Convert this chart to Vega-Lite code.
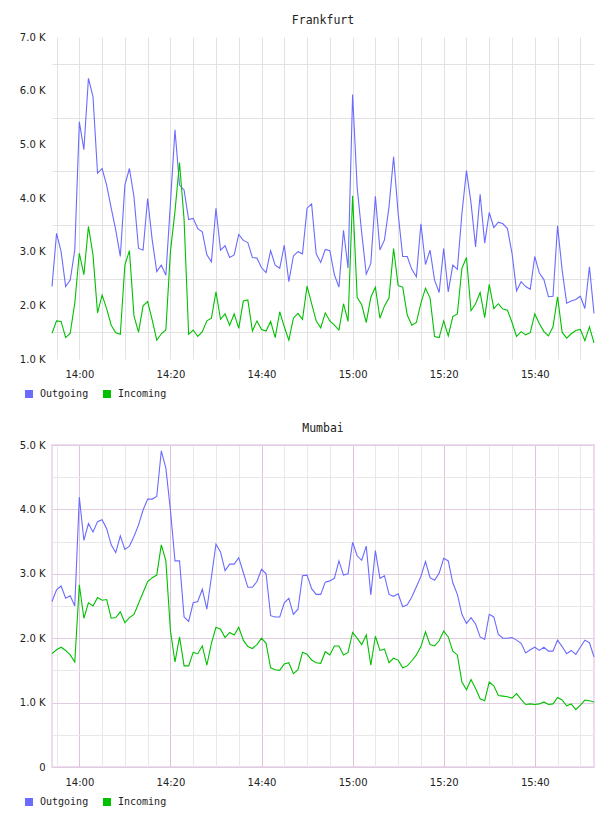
{
  "$schema": "https://vega.github.io/schema/vega-lite/v6.json",
  "background": "white",
  "padding": {"left": 11, "top": 14, "right": 15, "bottom": 5},
  "spacing": 17,
  "resolve": {"scale": {"color": "independent"}, "legend": {"color": "independent"}},
  "config": {
    "view": {"stroke": null},
    "axis": {"labelFont": "DejaVu Sans", "labelFontSize": 10, "labelColor": "#222", "ticks": false, "domain": false, "gridWidth": 1},
    "title": {"font": "DejaVu Sans Mono", "fontSize": 11.5, "fontWeight": "normal", "color": "#222", "anchor": "middle", "offset": 6},
    "legend": {"labelFont": "DejaVu Sans Mono", "labelFontSize": 10, "labelColor": "#222"}
  },
  "datasets": {
    "frankfurt": [
      {"t":"2024-01-01T13:54","Outgoing":2350,"Incoming":1480},
      {"t":"2024-01-01T13:55","Outgoing":3340,"Incoming":1710},
      {"t":"2024-01-01T13:56","Outgoing":3000,"Incoming":1700},
      {"t":"2024-01-01T13:57","Outgoing":2350,"Incoming":1400},
      {"t":"2024-01-01T13:58","Outgoing":2470,"Incoming":1480},
      {"t":"2024-01-01T13:59","Outgoing":3030,"Incoming":2040},
      {"t":"2024-01-01T14:00","Outgoing":5420,"Incoming":2970},
      {"t":"2024-01-01T14:01","Outgoing":4900,"Incoming":2570},
      {"t":"2024-01-01T14:02","Outgoing":6230,"Incoming":3470},
      {"t":"2024-01-01T14:03","Outgoing":5890,"Incoming":2940},
      {"t":"2024-01-01T14:04","Outgoing":4460,"Incoming":1860},
      {"t":"2024-01-01T14:05","Outgoing":4550,"Incoming":2190},
      {"t":"2024-01-01T14:06","Outgoing":4240,"Incoming":1940},
      {"t":"2024-01-01T14:07","Outgoing":3810,"Incoming":1630},
      {"t":"2024-01-01T14:08","Outgoing":3400,"Incoming":1490},
      {"t":"2024-01-01T14:09","Outgoing":2910,"Incoming":1460},
      {"t":"2024-01-01T14:10","Outgoing":4240,"Incoming":2750},
      {"t":"2024-01-01T14:11","Outgoing":4550,"Incoming":3020},
      {"t":"2024-01-01T14:12","Outgoing":4020,"Incoming":1800},
      {"t":"2024-01-01T14:13","Outgoing":3060,"Incoming":1500},
      {"t":"2024-01-01T14:14","Outgoing":3030,"Incoming":1990},
      {"t":"2024-01-01T14:15","Outgoing":3990,"Incoming":2070},
      {"t":"2024-01-01T14:16","Outgoing":3220,"Incoming":1730},
      {"t":"2024-01-01T14:17","Outgoing":2630,"Incoming":1350},
      {"t":"2024-01-01T14:18","Outgoing":2750,"Incoming":1470},
      {"t":"2024-01-01T14:19","Outgoing":2560,"Incoming":1540},
      {"t":"2024-01-01T14:20","Outgoing":3900,"Incoming":3000},
      {"t":"2024-01-01T14:21","Outgoing":5270,"Incoming":3750},
      {"t":"2024-01-01T14:22","Outgoing":4240,"Incoming":4660},
      {"t":"2024-01-01T14:23","Outgoing":4150,"Incoming":3600},
      {"t":"2024-01-01T14:24","Outgoing":3600,"Incoming":1460},
      {"t":"2024-01-01T14:25","Outgoing":3620,"Incoming":1540},
      {"t":"2024-01-01T14:26","Outgoing":3430,"Incoming":1420},
      {"t":"2024-01-01T14:27","Outgoing":3370,"Incoming":1510},
      {"t":"2024-01-01T14:28","Outgoing":2940,"Incoming":1710},
      {"t":"2024-01-01T14:29","Outgoing":2810,"Incoming":1760},
      {"t":"2024-01-01T14:30","Outgoing":3810,"Incoming":2250},
      {"t":"2024-01-01T14:31","Outgoing":3030,"Incoming":1740},
      {"t":"2024-01-01T14:32","Outgoing":3110,"Incoming":1840},
      {"t":"2024-01-01T14:33","Outgoing":2890,"Incoming":1630},
      {"t":"2024-01-01T14:34","Outgoing":2940,"Incoming":1840},
      {"t":"2024-01-01T14:35","Outgoing":3320,"Incoming":1570},
      {"t":"2024-01-01T14:36","Outgoing":3210,"Incoming":2080},
      {"t":"2024-01-01T14:37","Outgoing":3170,"Incoming":2100},
      {"t":"2024-01-01T14:38","Outgoing":2890,"Incoming":1520},
      {"t":"2024-01-01T14:39","Outgoing":2880,"Incoming":1710},
      {"t":"2024-01-01T14:40","Outgoing":2700,"Incoming":1550},
      {"t":"2024-01-01T14:41","Outgoing":2610,"Incoming":1520},
      {"t":"2024-01-01T14:42","Outgoing":3020,"Incoming":1700},
      {"t":"2024-01-01T14:43","Outgoing":2750,"Incoming":1400},
      {"t":"2024-01-01T14:44","Outgoing":2690,"Incoming":1880},
      {"t":"2024-01-01T14:45","Outgoing":3120,"Incoming":1600},
      {"t":"2024-01-01T14:46","Outgoing":2440,"Incoming":1350},
      {"t":"2024-01-01T14:47","Outgoing":2920,"Incoming":1760},
      {"t":"2024-01-01T14:48","Outgoing":3000,"Incoming":1850},
      {"t":"2024-01-01T14:49","Outgoing":2960,"Incoming":1740},
      {"t":"2024-01-01T14:50","Outgoing":3810,"Incoming":2360},
      {"t":"2024-01-01T14:51","Outgoing":3890,"Incoming":2030},
      {"t":"2024-01-01T14:52","Outgoing":2960,"Incoming":1710},
      {"t":"2024-01-01T14:53","Outgoing":2800,"Incoming":1580},
      {"t":"2024-01-01T14:54","Outgoing":3040,"Incoming":1860},
      {"t":"2024-01-01T14:55","Outgoing":3020,"Incoming":1710},
      {"t":"2024-01-01T14:56","Outgoing":2570,"Incoming":1630},
      {"t":"2024-01-01T14:57","Outgoing":2340,"Incoming":1540},
      {"t":"2024-01-01T14:58","Outgoing":3400,"Incoming":2030},
      {"t":"2024-01-01T14:59","Outgoing":2690,"Incoming":1700},
      {"t":"2024-01-01T15:00","Outgoing":5930,"Incoming":4040},
      {"t":"2024-01-01T15:01","Outgoing":4200,"Incoming":2150},
      {"t":"2024-01-01T15:02","Outgoing":3350,"Incoming":2010},
      {"t":"2024-01-01T15:03","Outgoing":2580,"Incoming":1680},
      {"t":"2024-01-01T15:04","Outgoing":2780,"Incoming":2150},
      {"t":"2024-01-01T15:05","Outgoing":4030,"Incoming":2340},
      {"t":"2024-01-01T15:06","Outgoing":3030,"Incoming":1760},
      {"t":"2024-01-01T15:07","Outgoing":3220,"Incoming":1990},
      {"t":"2024-01-01T15:08","Outgoing":3840,"Incoming":2140},
      {"t":"2024-01-01T15:09","Outgoing":4770,"Incoming":3060},
      {"t":"2024-01-01T15:10","Outgoing":3710,"Incoming":2370},
      {"t":"2024-01-01T15:11","Outgoing":2910,"Incoming":2340},
      {"t":"2024-01-01T15:12","Outgoing":2910,"Incoming":1820},
      {"t":"2024-01-01T15:13","Outgoing":2670,"Incoming":1630},
      {"t":"2024-01-01T15:14","Outgoing":2530,"Incoming":1680},
      {"t":"2024-01-01T15:15","Outgoing":3520,"Incoming":2040},
      {"t":"2024-01-01T15:16","Outgoing":2760,"Incoming":2320},
      {"t":"2024-01-01T15:17","Outgoing":3030,"Incoming":2140},
      {"t":"2024-01-01T15:18","Outgoing":2470,"Incoming":1420},
      {"t":"2024-01-01T15:19","Outgoing":2240,"Incoming":1400},
      {"t":"2024-01-01T15:20","Outgoing":3060,"Incoming":1710},
      {"t":"2024-01-01T15:21","Outgoing":2250,"Incoming":1430},
      {"t":"2024-01-01T15:22","Outgoing":2750,"Incoming":1790},
      {"t":"2024-01-01T15:23","Outgoing":2670,"Incoming":1840},
      {"t":"2024-01-01T15:24","Outgoing":3710,"Incoming":2690},
      {"t":"2024-01-01T15:25","Outgoing":4510,"Incoming":2890},
      {"t":"2024-01-01T15:26","Outgoing":3910,"Incoming":1900},
      {"t":"2024-01-01T15:27","Outgoing":3090,"Incoming":2030},
      {"t":"2024-01-01T15:28","Outgoing":4070,"Incoming":2240},
      {"t":"2024-01-01T15:29","Outgoing":3160,"Incoming":1770},
      {"t":"2024-01-01T15:30","Outgoing":3730,"Incoming":2390},
      {"t":"2024-01-01T15:31","Outgoing":3450,"Incoming":1940},
      {"t":"2024-01-01T15:32","Outgoing":3550,"Incoming":2030},
      {"t":"2024-01-01T15:33","Outgoing":3520,"Incoming":1930},
      {"t":"2024-01-01T15:34","Outgoing":3430,"Incoming":1910},
      {"t":"2024-01-01T15:35","Outgoing":2970,"Incoming":1680},
      {"t":"2024-01-01T15:36","Outgoing":2270,"Incoming":1420},
      {"t":"2024-01-01T15:37","Outgoing":2440,"Incoming":1510},
      {"t":"2024-01-01T15:38","Outgoing":2350,"Incoming":1450},
      {"t":"2024-01-01T15:39","Outgoing":2300,"Incoming":1490},
      {"t":"2024-01-01T15:40","Outgoing":2910,"Incoming":1840},
      {"t":"2024-01-01T15:41","Outgoing":2600,"Incoming":1660},
      {"t":"2024-01-01T15:42","Outgoing":2480,"Incoming":1510},
      {"t":"2024-01-01T15:43","Outgoing":2160,"Incoming":1430},
      {"t":"2024-01-01T15:44","Outgoing":2170,"Incoming":1600},
      {"t":"2024-01-01T15:45","Outgoing":3480,"Incoming":2160},
      {"t":"2024-01-01T15:46","Outgoing":2660,"Incoming":1500},
      {"t":"2024-01-01T15:47","Outgoing":2040,"Incoming":1390},
      {"t":"2024-01-01T15:48","Outgoing":2080,"Incoming":1470},
      {"t":"2024-01-01T15:49","Outgoing":2110,"Incoming":1530},
      {"t":"2024-01-01T15:50","Outgoing":2170,"Incoming":1550},
      {"t":"2024-01-01T15:51","Outgoing":1940,"Incoming":1340},
      {"t":"2024-01-01T15:52","Outgoing":2720,"Incoming":1600},
      {"t":"2024-01-01T15:53","Outgoing":1850,"Incoming":1300}
    ],
    "mumbai": [
      {"t":"2024-01-01T13:54","Outgoing":2570,"Incoming":1760},
      {"t":"2024-01-01T13:55","Outgoing":2750,"Incoming":1820},
      {"t":"2024-01-01T13:56","Outgoing":2810,"Incoming":1860},
      {"t":"2024-01-01T13:57","Outgoing":2620,"Incoming":1810},
      {"t":"2024-01-01T13:58","Outgoing":2660,"Incoming":1740},
      {"t":"2024-01-01T13:59","Outgoing":2500,"Incoming":1630},
      {"t":"2024-01-01T14:00","Outgoing":4190,"Incoming":2830},
      {"t":"2024-01-01T14:01","Outgoing":3520,"Incoming":2310},
      {"t":"2024-01-01T14:02","Outgoing":3780,"Incoming":2550},
      {"t":"2024-01-01T14:03","Outgoing":3650,"Incoming":2500},
      {"t":"2024-01-01T14:04","Outgoing":3810,"Incoming":2630},
      {"t":"2024-01-01T14:05","Outgoing":3840,"Incoming":2590},
      {"t":"2024-01-01T14:06","Outgoing":3700,"Incoming":2600},
      {"t":"2024-01-01T14:07","Outgoing":3450,"Incoming":2310},
      {"t":"2024-01-01T14:08","Outgoing":3330,"Incoming":2320},
      {"t":"2024-01-01T14:09","Outgoing":3590,"Incoming":2410},
      {"t":"2024-01-01T14:10","Outgoing":3380,"Incoming":2240},
      {"t":"2024-01-01T14:11","Outgoing":3430,"Incoming":2320},
      {"t":"2024-01-01T14:12","Outgoing":3580,"Incoming":2370},
      {"t":"2024-01-01T14:13","Outgoing":3760,"Incoming":2540},
      {"t":"2024-01-01T14:14","Outgoing":3990,"Incoming":2710},
      {"t":"2024-01-01T14:15","Outgoing":4160,"Incoming":2880},
      {"t":"2024-01-01T14:16","Outgoing":4160,"Incoming":2940},
      {"t":"2024-01-01T14:17","Outgoing":4200,"Incoming":2980},
      {"t":"2024-01-01T14:18","Outgoing":4910,"Incoming":3450},
      {"t":"2024-01-01T14:19","Outgoing":4640,"Incoming":3200},
      {"t":"2024-01-01T14:20","Outgoing":3990,"Incoming":2120},
      {"t":"2024-01-01T14:21","Outgoing":3200,"Incoming":1630},
      {"t":"2024-01-01T14:22","Outgoing":3200,"Incoming":2020},
      {"t":"2024-01-01T14:23","Outgoing":2330,"Incoming":1570},
      {"t":"2024-01-01T14:24","Outgoing":2260,"Incoming":1570},
      {"t":"2024-01-01T14:25","Outgoing":2550,"Incoming":1780},
      {"t":"2024-01-01T14:26","Outgoing":2570,"Incoming":1760},
      {"t":"2024-01-01T14:27","Outgoing":2760,"Incoming":1880},
      {"t":"2024-01-01T14:28","Outgoing":2450,"Incoming":1580},
      {"t":"2024-01-01T14:29","Outgoing":2950,"Incoming":1920},
      {"t":"2024-01-01T14:30","Outgoing":3460,"Incoming":2170},
      {"t":"2024-01-01T14:31","Outgoing":3340,"Incoming":2140},
      {"t":"2024-01-01T14:32","Outgoing":3050,"Incoming":2010},
      {"t":"2024-01-01T14:33","Outgoing":3150,"Incoming":2090},
      {"t":"2024-01-01T14:34","Outgoing":3150,"Incoming":2050},
      {"t":"2024-01-01T14:35","Outgoing":3250,"Incoming":2170},
      {"t":"2024-01-01T14:36","Outgoing":3020,"Incoming":1970},
      {"t":"2024-01-01T14:37","Outgoing":2790,"Incoming":1870},
      {"t":"2024-01-01T14:38","Outgoing":2790,"Incoming":1840},
      {"t":"2024-01-01T14:39","Outgoing":2880,"Incoming":1900},
      {"t":"2024-01-01T14:40","Outgoing":3070,"Incoming":2000},
      {"t":"2024-01-01T14:41","Outgoing":3000,"Incoming":1920},
      {"t":"2024-01-01T14:42","Outgoing":2350,"Incoming":1540},
      {"t":"2024-01-01T14:43","Outgoing":2330,"Incoming":1510},
      {"t":"2024-01-01T14:44","Outgoing":2330,"Incoming":1500},
      {"t":"2024-01-01T14:45","Outgoing":2550,"Incoming":1600},
      {"t":"2024-01-01T14:46","Outgoing":2620,"Incoming":1620},
      {"t":"2024-01-01T14:47","Outgoing":2370,"Incoming":1450},
      {"t":"2024-01-01T14:48","Outgoing":2450,"Incoming":1510},
      {"t":"2024-01-01T14:49","Outgoing":2970,"Incoming":1780},
      {"t":"2024-01-01T14:50","Outgoing":2980,"Incoming":1750},
      {"t":"2024-01-01T14:51","Outgoing":2770,"Incoming":1660},
      {"t":"2024-01-01T14:52","Outgoing":2680,"Incoming":1620},
      {"t":"2024-01-01T14:53","Outgoing":2680,"Incoming":1610},
      {"t":"2024-01-01T14:54","Outgoing":2870,"Incoming":1790},
      {"t":"2024-01-01T14:55","Outgoing":2890,"Incoming":1740},
      {"t":"2024-01-01T14:56","Outgoing":2930,"Incoming":1880},
      {"t":"2024-01-01T14:57","Outgoing":3200,"Incoming":1880},
      {"t":"2024-01-01T14:58","Outgoing":2980,"Incoming":1740},
      {"t":"2024-01-01T14:59","Outgoing":3000,"Incoming":1780},
      {"t":"2024-01-01T15:00","Outgoing":3490,"Incoming":2090},
      {"t":"2024-01-01T15:01","Outgoing":3280,"Incoming":2000},
      {"t":"2024-01-01T15:02","Outgoing":3210,"Incoming":1900},
      {"t":"2024-01-01T15:03","Outgoing":3430,"Incoming":2050},
      {"t":"2024-01-01T15:04","Outgoing":2670,"Incoming":1580},
      {"t":"2024-01-01T15:05","Outgoing":3360,"Incoming":2030},
      {"t":"2024-01-01T15:06","Outgoing":2930,"Incoming":1810},
      {"t":"2024-01-01T15:07","Outgoing":2970,"Incoming":1830},
      {"t":"2024-01-01T15:08","Outgoing":2680,"Incoming":1620},
      {"t":"2024-01-01T15:09","Outgoing":2650,"Incoming":1690},
      {"t":"2024-01-01T15:10","Outgoing":2690,"Incoming":1660},
      {"t":"2024-01-01T15:11","Outgoing":2490,"Incoming":1540},
      {"t":"2024-01-01T15:12","Outgoing":2520,"Incoming":1570},
      {"t":"2024-01-01T15:13","Outgoing":2640,"Incoming":1650},
      {"t":"2024-01-01T15:14","Outgoing":2800,"Incoming":1740},
      {"t":"2024-01-01T15:15","Outgoing":2960,"Incoming":1870},
      {"t":"2024-01-01T15:16","Outgoing":3190,"Incoming":2100},
      {"t":"2024-01-01T15:17","Outgoing":2940,"Incoming":1900},
      {"t":"2024-01-01T15:18","Outgoing":2900,"Incoming":1880},
      {"t":"2024-01-01T15:19","Outgoing":3010,"Incoming":1960},
      {"t":"2024-01-01T15:20","Outgoing":3240,"Incoming":2110},
      {"t":"2024-01-01T15:21","Outgoing":3200,"Incoming":2020},
      {"t":"2024-01-01T15:22","Outgoing":2860,"Incoming":1800},
      {"t":"2024-01-01T15:23","Outgoing":2680,"Incoming":1740},
      {"t":"2024-01-01T15:24","Outgoing":2370,"Incoming":1320},
      {"t":"2024-01-01T15:25","Outgoing":2230,"Incoming":1200},
      {"t":"2024-01-01T15:26","Outgoing":2320,"Incoming":1360},
      {"t":"2024-01-01T15:27","Outgoing":2220,"Incoming":1220},
      {"t":"2024-01-01T15:28","Outgoing":2020,"Incoming":1060},
      {"t":"2024-01-01T15:29","Outgoing":1980,"Incoming":1030},
      {"t":"2024-01-01T15:30","Outgoing":2370,"Incoming":1320},
      {"t":"2024-01-01T15:31","Outgoing":2330,"Incoming":1260},
      {"t":"2024-01-01T15:32","Outgoing":2060,"Incoming":1110},
      {"t":"2024-01-01T15:33","Outgoing":2000,"Incoming":1100},
      {"t":"2024-01-01T15:34","Outgoing":2000,"Incoming":1090},
      {"t":"2024-01-01T15:35","Outgoing":2010,"Incoming":1070},
      {"t":"2024-01-01T15:36","Outgoing":1970,"Incoming":1140},
      {"t":"2024-01-01T15:37","Outgoing":1920,"Incoming":1050},
      {"t":"2024-01-01T15:38","Outgoing":1770,"Incoming":970},
      {"t":"2024-01-01T15:39","Outgoing":1820,"Incoming":980},
      {"t":"2024-01-01T15:40","Outgoing":1860,"Incoming":970},
      {"t":"2024-01-01T15:41","Outgoing":1810,"Incoming":980},
      {"t":"2024-01-01T15:42","Outgoing":1860,"Incoming":1010},
      {"t":"2024-01-01T15:43","Outgoing":1800,"Incoming":970},
      {"t":"2024-01-01T15:44","Outgoing":1800,"Incoming":980},
      {"t":"2024-01-01T15:45","Outgoing":1970,"Incoming":1080},
      {"t":"2024-01-01T15:46","Outgoing":1870,"Incoming":1040},
      {"t":"2024-01-01T15:47","Outgoing":1760,"Incoming":950},
      {"t":"2024-01-01T15:48","Outgoing":1810,"Incoming":980},
      {"t":"2024-01-01T15:49","Outgoing":1750,"Incoming":890},
      {"t":"2024-01-01T15:50","Outgoing":1860,"Incoming":960},
      {"t":"2024-01-01T15:51","Outgoing":1970,"Incoming":1040},
      {"t":"2024-01-01T15:52","Outgoing":1930,"Incoming":1030},
      {"t":"2024-01-01T15:53","Outgoing":1710,"Incoming":1010}
    ]
  },
  "vconcat": [
    {
      "title": "Frankfurt",
      "width": 542,
      "height": 322,
      "data": {"name": "frankfurt"},
      "transform": [{"fold": ["Outgoing", "Incoming"], "as": ["dir", "v"]}],
      "mark": {"type": "line", "strokeWidth": 1.1},
      "encoding": {
        "x": {"field": "t", "type": "temporal", "title": null,
          "axis": {
            "values": [
              {"year": 2024, "month": 1, "date": 1, "hours": 13, "minutes": 55},
              {"year": 2024, "month": 1, "date": 1, "hours": 14, "minutes": 0},
              {"year": 2024, "month": 1, "date": 1, "hours": 14, "minutes": 5},
              {"year": 2024, "month": 1, "date": 1, "hours": 14, "minutes": 10},
              {"year": 2024, "month": 1, "date": 1, "hours": 14, "minutes": 15},
              {"year": 2024, "month": 1, "date": 1, "hours": 14, "minutes": 20},
              {"year": 2024, "month": 1, "date": 1, "hours": 14, "minutes": 25},
              {"year": 2024, "month": 1, "date": 1, "hours": 14, "minutes": 30},
              {"year": 2024, "month": 1, "date": 1, "hours": 14, "minutes": 35},
              {"year": 2024, "month": 1, "date": 1, "hours": 14, "minutes": 40},
              {"year": 2024, "month": 1, "date": 1, "hours": 14, "minutes": 45},
              {"year": 2024, "month": 1, "date": 1, "hours": 14, "minutes": 50},
              {"year": 2024, "month": 1, "date": 1, "hours": 14, "minutes": 55},
              {"year": 2024, "month": 1, "date": 1, "hours": 15, "minutes": 0},
              {"year": 2024, "month": 1, "date": 1, "hours": 15, "minutes": 5},
              {"year": 2024, "month": 1, "date": 1, "hours": 15, "minutes": 10},
              {"year": 2024, "month": 1, "date": 1, "hours": 15, "minutes": 15},
              {"year": 2024, "month": 1, "date": 1, "hours": 15, "minutes": 20},
              {"year": 2024, "month": 1, "date": 1, "hours": 15, "minutes": 25},
              {"year": 2024, "month": 1, "date": 1, "hours": 15, "minutes": 30},
              {"year": 2024, "month": 1, "date": 1, "hours": 15, "minutes": 35},
              {"year": 2024, "month": 1, "date": 1, "hours": 15, "minutes": 40},
              {"year": 2024, "month": 1, "date": 1, "hours": 15, "minutes": 45},
              {"year": 2024, "month": 1, "date": 1, "hours": 15, "minutes": 50}
            ],
            "labelExpr": "minutes(datum.value) % 20 == 0 ? timeFormat(datum.value, '%H:%M') : ''",
            "labelOverlap": false, "labelFlush": false, "labelPadding": 10, "gridColor": "#e2e2e2"}},
        "y": {"field": "v", "type": "quantitative", "title": null, "scale": {"domain": [1000, 7000], "zero": false},
          "axis": {"values": [1000,1500,2000,2500,3000,3500,4000,4500,5000,5500,6000,6500,7000],
            "labelExpr": "datum.value % 1000 == 0 ? format(datum.value / 1000, '.1f') + ' K' : ''",
            "labelOverlap": false, "labelFlush": false, "labelPadding": 7, "minExtent": 40, "maxExtent": 40,
            "gridColor": {"condition": {"test": "datum.value % 1000 == 0", "value": "transparent"}, "value": "#e2e2e2"}}},
        "color": {"field": "dir", "type": "nominal", "title": null, "scale": {"domain": ["Outgoing", "Incoming"], "range": ["#6b6bff", "#00c000"]},
          "legend": {"orient": "none", "legendX": -28, "legendY": 352, "direction": "horizontal", "symbolType": "square", "symbolSize": 16, "symbolStrokeWidth": 4, "labelOffset": 6, "columnPadding": 8, "padding": 0}}
      }
    },
    {
      "title": "Mumbai",
      "width": 542,
      "height": 322,
      "view": {"stroke": "#eedcee", "strokeWidth": 2},
      "data": {"name": "mumbai"},
      "transform": [{"fold": ["Outgoing", "Incoming"], "as": ["dir", "v"]}],
      "mark": {"type": "line", "strokeWidth": 1.1},
      "encoding": {
        "x": {"field": "t", "type": "temporal", "title": null,
          "axis": {
            "values": [
              {"year": 2024, "month": 1, "date": 1, "hours": 13, "minutes": 55},
              {"year": 2024, "month": 1, "date": 1, "hours": 14, "minutes": 0},
              {"year": 2024, "month": 1, "date": 1, "hours": 14, "minutes": 5},
              {"year": 2024, "month": 1, "date": 1, "hours": 14, "minutes": 10},
              {"year": 2024, "month": 1, "date": 1, "hours": 14, "minutes": 15},
              {"year": 2024, "month": 1, "date": 1, "hours": 14, "minutes": 20},
              {"year": 2024, "month": 1, "date": 1, "hours": 14, "minutes": 25},
              {"year": 2024, "month": 1, "date": 1, "hours": 14, "minutes": 30},
              {"year": 2024, "month": 1, "date": 1, "hours": 14, "minutes": 35},
              {"year": 2024, "month": 1, "date": 1, "hours": 14, "minutes": 40},
              {"year": 2024, "month": 1, "date": 1, "hours": 14, "minutes": 45},
              {"year": 2024, "month": 1, "date": 1, "hours": 14, "minutes": 50},
              {"year": 2024, "month": 1, "date": 1, "hours": 14, "minutes": 55},
              {"year": 2024, "month": 1, "date": 1, "hours": 15, "minutes": 0},
              {"year": 2024, "month": 1, "date": 1, "hours": 15, "minutes": 5},
              {"year": 2024, "month": 1, "date": 1, "hours": 15, "minutes": 10},
              {"year": 2024, "month": 1, "date": 1, "hours": 15, "minutes": 15},
              {"year": 2024, "month": 1, "date": 1, "hours": 15, "minutes": 20},
              {"year": 2024, "month": 1, "date": 1, "hours": 15, "minutes": 25},
              {"year": 2024, "month": 1, "date": 1, "hours": 15, "minutes": 30},
              {"year": 2024, "month": 1, "date": 1, "hours": 15, "minutes": 35},
              {"year": 2024, "month": 1, "date": 1, "hours": 15, "minutes": 40},
              {"year": 2024, "month": 1, "date": 1, "hours": 15, "minutes": 45},
              {"year": 2024, "month": 1, "date": 1, "hours": 15, "minutes": 50}
            ],
            "labelExpr": "minutes(datum.value) % 20 == 0 ? timeFormat(datum.value, '%H:%M') : ''",
            "labelOverlap": false, "labelFlush": false, "labelPadding": 10,
            "gridColor": {"condition": {"test": "minutes(datum.value) % 20 == 0", "value": "#dcc2dc"}, "value": "#e8e8e8"}}},
        "y": {"field": "v", "type": "quantitative", "title": null, "scale": {"domain": [0, 5000]},
          "axis": {"values": [0,500,1000,1500,2000,2500,3000,3500,4000,4500,5000],
            "labelExpr": "datum.value == 0 ? '0' : (datum.value % 1000 == 0 ? format(datum.value / 1000, '.1f') + ' K' : '')",
            "labelOverlap": false, "labelFlush": false, "labelPadding": 7, "minExtent": 40, "maxExtent": 40,
            "gridColor": {"condition": {"test": "datum.value % 1000 == 0", "value": "#e2cce2"}, "value": "#e8e8e8"}}},
        "color": {"field": "dir", "type": "nominal", "title": null, "scale": {"domain": ["Outgoing", "Incoming"], "range": ["#6b6bff", "#00c000"]},
          "legend": {"orient": "none", "legendX": -28, "legendY": 352, "direction": "horizontal", "symbolType": "square", "symbolSize": 16, "symbolStrokeWidth": 4, "labelOffset": 6, "columnPadding": 8, "padding": 0}}
      }
    }
  ]
}
